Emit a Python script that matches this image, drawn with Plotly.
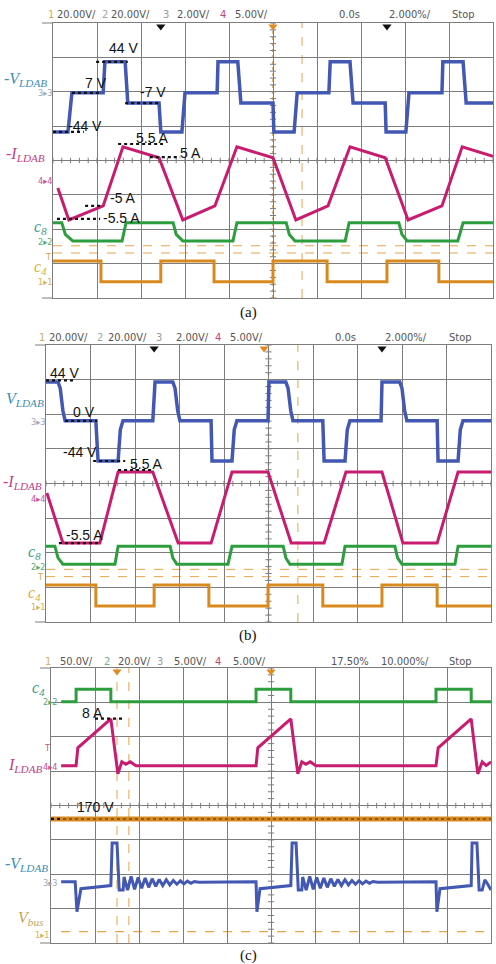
import plotly.graph_objects as go

W, H = 496, 964

# ---------------- data (time and amplitude in screen divisions) ----------------
# Panel (a)
a_v_t = [0, 0.34, 0.43, 1.14, 1.18, 1.64, 1.70, 2.41, 2.45, 2.93, 3.00, 3.73, 3.75, 4.20, 4.27, 5.00,
         5.02, 5.48, 5.55, 6.27, 6.30, 6.75, 6.82, 7.55, 7.57, 8.02, 8.09, 8.84, 8.86, 9.32, 9.39, 10]
a_v_y = [0.83, 0.83, 1.97, 1.97, 2.87, 2.87, 1.67, 1.67, 0.83, 0.83, 1.97, 1.97, 2.87, 2.87, 1.67, 1.67,
         0.83, 0.83, 1.97, 1.97, 2.87, 2.87, 1.67, 1.67, 0.83, 0.83, 1.97, 1.97, 2.87, 2.87, 1.67, 1.67]
a_i_t = [0.11, 0.36, 1.14, 1.59, 2.41, 2.95, 3.68, 4.18, 5.00, 5.52, 6.25, 6.75, 7.55, 8.07, 8.84, 9.30, 10]
a_i_y = [-0.80, -1.73, -1.32, 0.40, 0.08, -1.73, -1.32, 0.40, 0.08, -1.73, -1.32, 0.40, 0.08, -1.73, -1.32, 0.40, 0.12]
a_c8_t = [0, 0.20, 0.28, 0.45, 1.57, 1.66, 2.73, 2.80, 2.95, 4.09, 4.18, 5.30, 5.37, 5.50, 6.64, 6.73,
          7.86, 7.93, 8.05, 9.20, 9.32, 10]
a_c8_y = [-1.81, -1.81, -2.15, -2.34, -2.34, -1.81, -1.81, -2.15, -2.34, -2.34, -1.81, -1.81, -2.15, -2.34,
          -2.34, -1.81, -1.81, -2.15, -2.34, -2.34, -1.81, -1.81]
a_c4_t = [0, 1.09, 1.09, 2.45, 2.45, 3.66, 3.66, 5.00, 5.00, 6.23, 6.23, 7.59, 7.59, 8.77, 8.77, 10]
a_c4_y = [-2.92, -2.92, -3.53, -3.53, -2.92, -2.92, -3.53, -3.53, -2.92, -2.92, -3.53, -3.53, -2.92, -2.92,
          -3.53, -3.53]

# Panel (b)
b_v_t = [0, 0.27, 0.32, 0.38, 0.43, 1.12, 1.17, 1.62, 1.67, 1.73, 2.40, 2.45, 2.85, 2.90, 2.96, 3.01,
         3.71, 3.73, 4.18, 4.23, 4.29, 4.99, 5.01, 5.39, 5.44, 5.50, 5.55, 6.22, 6.25, 6.72, 6.77, 6.83,
         7.53, 7.55, 7.95, 8.00, 8.06, 8.11, 8.79, 8.81, 9.26, 9.31, 9.37, 10]
b_v_y = [2.93, 2.93, 2.75, 2.10, 1.81, 1.81, 0.65, 0.65, 1.55, 1.81, 1.81, 2.93, 2.93, 2.75, 2.10, 1.81,
         1.81, 0.65, 0.65, 1.55, 1.81, 1.81, 2.93, 2.93, 2.75, 2.10, 1.81, 1.81, 0.65, 0.65, 1.55, 1.81,
         1.81, 2.93, 2.93, 2.75, 2.10, 1.81, 1.81, 0.65, 0.65, 1.55, 1.81, 1.81]
b_i_t = [0.02, 0.38, 1.21, 1.62, 2.40, 2.97, 3.71, 4.18, 4.99, 5.51, 6.25, 6.74, 7.55, 8.02, 8.79, 9.26, 10]
b_i_y = [-0.27, -1.72, -1.72, 0.33, 0.33, -1.72, -1.72, 0.33, 0.33, -1.72, -1.72, 0.33, 0.33, -1.72, -1.72,
         0.33, 0.33]
b_c8_t = [0, 0.20, 0.27, 0.38, 1.55, 1.62, 2.79, 2.85, 2.94, 4.09, 4.18, 5.33, 5.39, 5.48, 6.65, 6.72,
          7.84, 7.90, 8.00, 9.19, 9.26, 10]
b_c8_y = [-1.81, -1.81, -2.15, -2.33, -2.33, -1.81, -1.81, -2.15, -2.33, -2.33, -1.81, -1.81, -2.15, -2.33,
          -2.33, -1.81, -1.81, -2.15, -2.33, -2.33, -1.81, -1.81]
b_c4_t = [0, 1.12, 1.12, 2.43, 2.43, 3.66, 3.66, 4.99, 4.99, 6.22, 6.22, 7.55, 7.55, 8.79, 8.79, 10]
b_c4_y = [-2.93, -2.93, -3.54, -3.54, -2.93, -2.93, -3.54, -3.54, -2.93, -2.93, -3.54, -3.54, -2.93, -2.93,
          -3.54, -3.54]

# Panel (c)
c_c4_t = [0.23, 0.57, 0.57, 1.36, 1.36, 4.66, 4.66, 5.45, 5.45, 8.75, 8.75, 9.55, 9.55, 10]
c_c4_y = [3.02, 3.02, 3.38, 3.38, 3.02, 3.02, 3.38, 3.38, 3.02, 3.02, 3.38, 3.38, 3.02, 3.02]
c_i_t = [0.23, 0.57, 0.61, 0.89, 1.11, 1.36, 1.52, 1.61, 1.70, 1.80, 1.93, 4.66, 4.70, 4.98, 5.20, 5.45,
         5.61, 5.70, 5.79, 5.89, 6.02, 8.75, 8.80, 9.07, 9.30, 9.55, 9.70, 9.80, 9.89, 10]
c_i_y = [1.16, 1.16, 1.68, 1.99, 2.26, 2.52, 0.92, 1.27, 1.20, 1.27, 1.16, 1.16, 1.68, 1.99, 2.26, 2.52,
         0.92, 1.27, 1.20, 1.27, 1.16, 1.16, 1.68, 1.99, 2.26, 2.52, 0.92, 1.27, 1.16, 1.27]
c_bus_t = [0, 10]
c_bus_y = [-0.39, -0.39]
c_v_p1_t = [0.23, 0.55, 0.59, 0.68, 1.36, 1.39, 1.50, 1.55, 1.64]
c_v_p1_y = [-2.22, -2.22, -3.09, -2.42, -2.33, -1.09, -1.09, -2.46, -2.46]
c_v_p2_t = [4.66, 4.68, 4.75, 5.45, 5.48, 5.57, 5.62, 5.70]
c_v_p2_y = [-2.22, -3.09, -2.42, -2.33, -1.09, -1.09, -2.46, -2.46]
c_v_p3_t = [8.75, 8.77, 8.84, 9.55, 9.57, 9.68, 9.73, 9.80, 9.86, 9.93, 10]
c_v_p3_y = [-2.22, -3.09, -2.42, -2.33, -1.09, -1.09, -2.46, -2.46, -2.16, -2.30, -2.46]
ring_dt = [0.02, 0.10, 0.18, 0.26, 0.34, 0.42, 0.50, 0.58, 0.66, 0.74, 0.82, 0.90, 0.98, 1.06, 1.14,
           1.22, 1.30, 1.38, 1.46, 1.54, 1.62, 1.72]
ring_y = [-2.08, -2.46, -2.06, -2.44, -2.09, -2.41, -2.11, -2.38, -2.13, -2.35, -2.15, -2.33, -2.16, -2.31,
          -2.18, -2.29, -2.19, -2.28, -2.20, -2.26, -2.21, -2.23]

# black dotted level markers: (t0, t1, level)
a_marks = [(0.98, 1.70, 2.87), (0.43, 1.07, 1.97), (0.0, 0.70, 0.83), (1.64, 2.39, 1.67),
           (1.48, 2.50, 0.48), (2.20, 2.89, 0.10), (0.73, 1.14, -1.32), (0.09, 1.07, -1.70)]
b_marks = [(0.0, 0.61, 2.98), (0.43, 1.15, 1.81), (1.06, 1.78, 0.65), (1.62, 2.40, 0.39), (0.29, 1.21, -1.72)]
c_marks = [(1.0, 1.68, 2.53), (0.0, 0.25, -0.39)]

# ---------------- style ----------------
GRID = "#7d7d7d"
BLUE = "#4258b2"
MAG = "#c81c70"
GRN = "#2c9e3e"
ORG = "#d98a1f"
CUR = "#e6a548"

panels = {
    "a": dict(px=(53, 493), py=(23, 298)),
    "b": dict(px=(46, 491), py=(345, 622)),
    "c": dict(px=(51, 491), py=(668, 943)),
}
axid = {"a": ("x", "y"), "b": ("x2", "y2"), "c": ("x3", "y3")}

fig = go.Figure()


def add_line(panel, t, y, color, width=3, dash=None):
    xa, ya = axid[panel]
    fig.add_trace(go.Scatter(x=t, y=y, xaxis=xa, yaxis=ya, mode="lines",
                             line=dict(color=color, width=width, dash=dash),
                             hoverinfo="skip", showlegend=False))


layout = dict(width=W, height=H, margin=dict(l=0, r=0, t=0, b=0),
              paper_bgcolor="white", plot_bgcolor="white", showlegend=False)
for i, (k, p) in enumerate(panels.items()):
    sfx = "" if i == 0 else str(i + 1)
    xd = [p["px"][0] / W, p["px"][1] / W]
    yd = [1 - p["py"][1] / H, 1 - p["py"][0] / H]
    layout["xaxis" + sfx] = dict(domain=xd, range=[0, 10], dtick=1, tick0=0, showgrid=True, gridcolor=GRID,
                                 gridwidth=1, showline=True, mirror=True, linecolor=GRID, linewidth=1,
                                 zeroline=False, showticklabels=False, ticks="",
                                 anchor="y" + sfx, fixedrange=True)
    layout["yaxis" + sfx] = dict(domain=yd, range=[-4, 4], dtick=1, tick0=0, showgrid=True, gridcolor=GRID,
                                 gridwidth=1, showline=True, mirror=True, linecolor=GRID, linewidth=1,
                                 zeroline=False, showticklabels=False, ticks="",
                                 anchor="x" + sfx, fixedrange=True)
fig.update_layout(**layout)

shapes = []


def cursor(panel, x0, y0, x1, y1, color=CUR, dash="dash", width=1):
    xa, ya = axid[panel]
    shapes.append(dict(type="line", xref=xa, yref=ya, x0=x0, y0=y0, x1=x1, y1=y1,
                       line=dict(color=color, width=width, dash=dash), layer="below"))


# cursors / reference lines
for pn in ("a", "b"):
    cursor(pn, 0, -2.48, 10, -2.48)
    cursor(pn, 0, -2.69, 10, -2.69)
    cursor(pn, 5.66, -4, 5.66, 4)
    cursor(pn, 5.0, -4, 5.0, 4, color="#d99a50", dash="dot", width=1.5)
cursor("c", 1.5, -4, 1.5, 4)
cursor("c", 1.77, -4, 1.77, 4)
cursor("c", 0.23, -3.67, 10, -3.67, width=1.2)

# border extensions on the left
for k, p in panels.items():
    for yy in p["py"]:
        shapes.append(dict(type="line", xref="paper", yref="paper", x0=(p["px"][0] - 11) / W, x1=p["px"][0] / W,
                           y0=1 - yy / H, y1=1 - yy / H, line=dict(color=GRID, width=1)))
fig.update_layout(shapes=shapes)

# center-line minor ticks
for pn in ("a", "b", "c"):
    tx, ty = [], []
    for k in range(51):
        t = k * 0.2
        tx += [t, t, None]
        ty += [-0.08, 0.08, None]
    for k in range(41):
        v = -4 + k * 0.2
        tx += [4.93, 5.07, None]
        ty += [v, v, None]
    add_line(pn, tx, ty, GRID, width=1)

# traces
add_line("a", a_c4_t, a_c4_y, ORG, 3)
add_line("a", a_c8_t, a_c8_y, GRN, 3)
add_line("a", a_i_t, a_i_y, MAG, 3)
add_line("a", a_v_t, a_v_y, BLUE, 3.5)

add_line("b", b_c4_t, b_c4_y, ORG, 3)
add_line("b", b_c8_t, b_c8_y, GRN, 3)
add_line("b", b_i_t, b_i_y, MAG, 3)
add_line("b", b_v_t, b_v_y, BLUE, 3.5)

add_line("c", c_bus_t, c_bus_y, ORG, 5)
add_line("c", c_bus_t, c_bus_y, "#8a5a22", 2, dash="dot")
add_line("c", c_c4_t, c_c4_y, GRN, 3)
add_line("c", c_i_t, c_i_y, MAG, 3)
cv_t = c_v_p1_t + [1.64 + d for d in ring_dt] + c_v_p2_t + [5.70 + d for d in ring_dt] + c_v_p3_t
cv_y = c_v_p1_y + ring_y + c_v_p2_y + ring_y + c_v_p3_y
add_line("c", cv_t, cv_y, BLUE, 3)

# black dotted level markers
for pn, marks in (("a", a_marks), ("b", b_marks), ("c", c_marks)):
    for t0, t1, lv in marks:
        add_line(pn, [t0, t1], [lv, lv], "#111111", 2.2, dash="dot")

# trigger markers on the top border
trig = {"a": ([2.45, 7.59], [5.0]), "b": ([2.43, 7.55], [4.9]), "c": ([], [1.5, 5.0])}
for pn, (blk, org) in trig.items():
    xa, ya = axid[pn]
    for xs, col in ((blk, "#111111"), (org, "#e08a20")):
        if xs:
            fig.add_trace(go.Scatter(x=xs, y=[3.9] * len(xs), xaxis=xa, yaxis=ya, mode="markers",
                                     marker=dict(symbol="triangle-down", size=8, color=col),
                                     cliponaxis=False, hoverinfo="skip", showlegend=False))

anns = []


def ann(text, x, y, size=14, color="#111", family="Liberation Sans, Arial, sans-serif", xanchor="center"):
    anns.append(dict(text=text, x=x / W, y=1 - y / H, xref="paper", yref="paper", showarrow=False,
                     xanchor=xanchor, yanchor="middle", font=dict(size=size, color=color, family=family)))


# headers
HF = "Liberation Sans Narrow, DejaVu Sans Condensed, Arial, sans-serif"
HC = "#555555"
headers = [
    (15, [("1", 46, "#c9b25a"), ("20.00V/", 55, HC), ("2", 100, "#9aa7a0"), ("20.00V/", 109, HC),
          ("3", 161, "#999999"), ("2.00V/", 175, HC), ("4", 218, "#c8407a"), ("5.00V/", 233, HC),
          ("0.0s", 337, HC), ("2.000%/", 387, HC), ("Stop", 450, HC)]),
    (337, [("1", 37, "#c9b25a"), ("20.00V/", 47, HC), ("2", 95, "#9aa7a0"), ("20.00V/", 106, HC),
           ("3", 154, "#999999"), ("2.00V/", 174, HC), ("4", 213, "#c8407a"), ("5.00V/", 228, HC),
           ("0.0s", 333, HC), ("2.000%/", 383, HC), ("Stop", 447, HC)]),
    (661, [("1", 43, "#d8b060"), ("50.0V/", 58, HC), ("2", 102, "#6fb08a"), ("20.0V/", 116, HC),
           ("3", 155, "#999999"), ("5.00V/", 172, HC), ("4", 213, "#c8407a"), ("5.00V/", 231, HC),
           ("17.50%", 329, HC), ("10.000%/", 379, HC), ("Stop", 447, HC)]),
]
for y, items in headers:
    for txt, x, col in items:
        ann(txt, x, y, size=11, color=col, family=HF, xanchor="left")

# value labels
for txt, x, y in [("44 V", 123, 48), ("7 V", 96, 83), ("-44 V", 85, 126), ("-7 V", 153, 92),
                  ("5.5 A", 152, 138), ("5 A", 190, 153), ("-5 A", 123, 198), ("-5.5 A", 121, 218),
                  ("44 V", 64, 373), ("0 V", 84, 412), ("-44 V", 80, 452), ("5.5 A", 146, 464),
                  ("-5.5 A", 84, 535), ("8 A", 92, 713), ("170 V", 95, 807)]:
    ann(txt, x, y, size=14)

# channel names (italic serif)
SF = "Liberation Serif, Times New Roman, serif"
LB = "#3d8fb8"
LM = "#c2418a"
LG = "#3aa08c"
LY = "#d6b23a"
for txt, x, y, col in [("<i>-V<sub>LDAB</sub></i>", 25, 79, LB), ("<i>-I<sub>LDAB</sub></i>", 25, 155, LM),
                       ("<i>c<sub>8</sub></i>", 40, 227, LG), ("<i>c<sub>4</sub></i>", 40, 267, LY),
                       ("<i>V<sub>LDAB</sub></i>", 25, 399, LB), ("<i>-I<sub>LDAB</sub></i>", 22, 482, LM),
                       ("<i>c<sub>8</sub></i>", 34, 552, LG), ("<i>c<sub>4</sub></i>", 34, 593, LY),
                       ("<i>c<sub>4</sub></i>", 38, 688, LG), ("<i>I<sub>LDAB</sub></i>", 25, 765, LM),
                       ("<i>-V<sub>LDAB</sub></i>", 26, 864, LB), ("<i>V<sub>bus</sub></i>", 31, 918, "#c9a454")]:
    ann(txt, x, y, size=16, color=col, family=SF)

# channel ground markers
for txt, x, y, col in [("3▸3", 54, 93, "#9aa6c0"), ("4▸4", 54, 181, "#c8509a"), ("2▸2", 54, 242, "#55aa70"),
                       ("1▸1", 54, 282, "#d8b050"), ("T", 53, 257, "#d8a040"),
                       ("3▸3", 47, 422, "#9aa6c0"), ("4▸4", 47, 499, "#c8509a"), ("2▸2", 47, 567, "#55aa70"),
                       ("1▸1", 47, 607, "#d8b050"), ("T", 45, 577, "#d8a040"),
                       ("2▸2", 59, 702, "#55aa70"), ("4▸4", 59, 767, "#c8509a"), ("T", 52, 748, "#c8509a"),
                       ("3▸3", 59, 883, "#9aa6c0"), ("1▸1", 51, 935, "#d8b050")]:
    ann(txt, x, y, size=9, color=col, family=HF, xanchor="right")

# captions
for txt, y in [("(a)", 313), ("(b)", 635), ("(c)", 955)]:
    ann(txt, 248, y, size=15, family=SF)

fig.update_layout(annotations=anns)
fig.write_html("out.html")
